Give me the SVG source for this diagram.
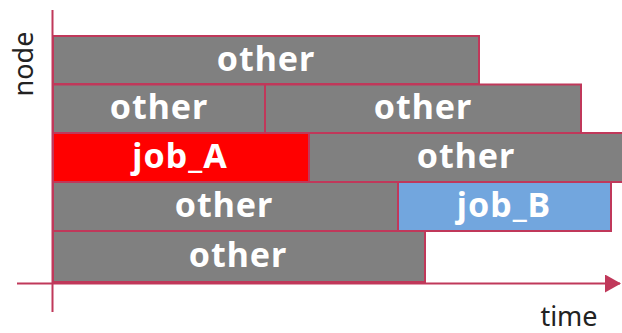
<svg xmlns="http://www.w3.org/2000/svg" width="622" height="333" viewBox="0 0 622 333">
  <style>
    .blk { stroke: #C0385A; stroke-width: 2; }
    .other { fill: #808080; }
    .jobA { fill: #FF0000; }
    .jobB { fill: #72A6DE; }
    .lbl { font-family: "Noto Sans", "Open Sans", sans-serif; font-weight: bold; font-size: 34px; letter-spacing: 1px; fill: #FFFFFF; text-anchor: middle; }
    .axl { font-family: "Noto Sans", "Open Sans", sans-serif; font-size: 27px; fill: #222222; }
    .ax { stroke: #C0385A; stroke-width: 2; fill: none; }
  </style>
  <defs>
    <marker id="arrow" viewBox="0 0 16 18" refX="15" refY="9" markerWidth="16" markerHeight="18" markerUnits="userSpaceOnUse" orient="auto">
      <path d="M0,0 L16,9 L0,18 Z" fill="#C0385A"/>
    </marker>
  </defs>

  <!-- row 1 -->
  <g id="r1-other">
    <rect class="blk other" x="53" y="36" width="426" height="48"/>
    <text class="lbl" x="266" y="71">other</text>
  </g>
  <!-- row 2 -->
  <g id="r2-other-a">
    <rect class="blk other" x="53" y="84.5" width="212" height="48.5"/>
    <text class="lbl" x="159" y="119">other</text>
  </g>
  <g id="r2-other-b">
    <rect class="blk other" x="265" y="84.5" width="316" height="48.5"/>
    <text class="lbl" x="423" y="119">other</text>
  </g>
  <!-- row 3 -->
  <g id="job-A">
    <rect class="blk jobA" x="53" y="133" width="256" height="49"/>
    <text class="lbl" x="180" y="168">job_A</text>
  </g>
  <g id="r3-other">
    <rect class="blk other" x="309" y="133" width="330" height="49"/>
    <text class="lbl" x="466" y="168">other</text>
  </g>
  <!-- row 4 -->
  <g id="r4-other">
    <rect class="blk other" x="53" y="182" width="345" height="49"/>
    <text class="lbl" x="224" y="217">other</text>
  </g>
  <g id="job-B">
    <rect class="blk jobB" x="398" y="182" width="213" height="49"/>
    <text class="lbl" x="504" y="217">job_B</text>
  </g>
  <!-- row 5 -->
  <g id="r5-other">
    <rect class="blk other" x="53" y="231" width="372" height="51"/>
    <text class="lbl" x="238" y="267">other</text>
  </g>

  <!-- axes -->
  <g id="axes">
    <line class="ax" x1="52.5" y1="10" x2="52.5" y2="312"/>
    <line class="ax" x1="17" y1="283.5" x2="620" y2="283.5" marker-end="url(#arrow)"/>
  </g>
  <g id="axis-labels">
    <text class="axl" transform="translate(33,64) rotate(-90)" text-anchor="middle">node</text>
    <text class="axl" x="569" y="326" text-anchor="middle">time</text>
  </g>
</svg>
